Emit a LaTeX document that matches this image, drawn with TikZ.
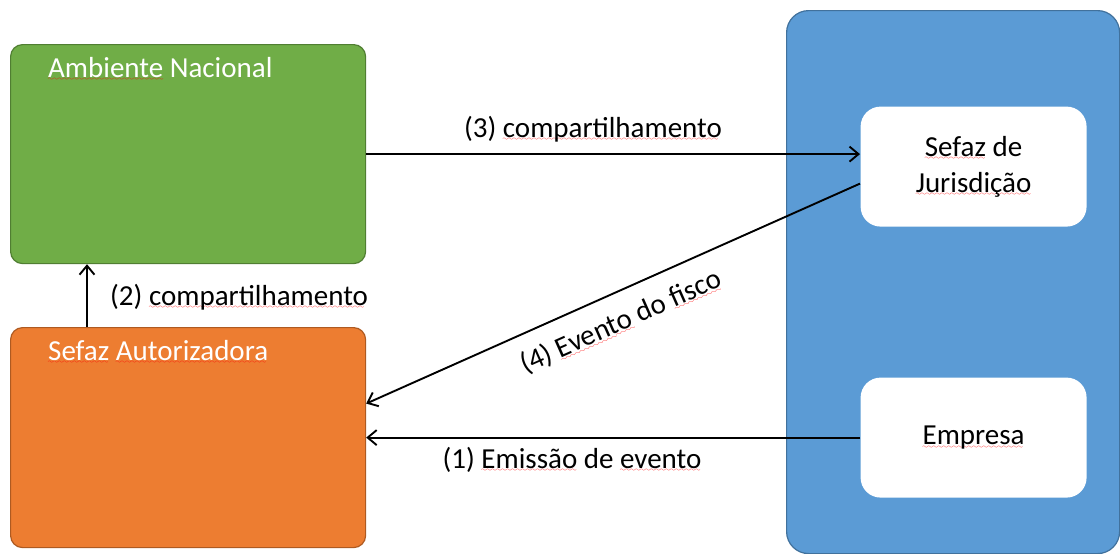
\documentclass[tikz,border=0pt]{standalone}
\usepackage{fontspec}
\setmainfont{Carlito}
\usetikzlibrary{arrows.meta,calc}
\definecolor{grnfill}{HTML}{70AD47}
\definecolor{grnline}{HTML}{507E32}
\definecolor{orgfill}{HTML}{ED7D31}
\definecolor{orgline}{HTML}{AE5A21}
\definecolor{blufill}{HTML}{5B9BD5}
\definecolor{bluline}{HTML}{41719C}
\font\sqfont=lasy6
\newcommand\redsq[1]{\setbox0\hbox{#1}\rlap{\textcolor{red}{\lower3.5pt\hbox to\wd0{\leaders\hbox{\sqfont\char58}\hfil}}}\box0\relax}
\tikzset{
  boxbase/.style={rounded corners=12pt, line width=1.2pt, inner sep=0pt},
  lbl/.style={font=\fontsize{29}{36}\selectfont, inner sep=0pt},
  conn/.style={line width=1.9pt, -{Straight Barb[length=9pt,width=15pt,line width=1.9pt]}}
}
\begin{document}
\begin{tikzpicture}[x=1pt,y=-1pt]
\useasboundingbox (0,0) rectangle (1120,554);
% boxes
\node[boxbase, draw=grnline, fill=grnfill, minimum width=355pt, minimum height=219pt, anchor=north west] (amb) at (10,44) {};
\node[boxbase, draw=orgline, fill=orgfill, minimum width=355pt, minimum height=220pt, anchor=north west] (aut) at (10,327) {};
\node[boxbase, rounded corners=22pt, draw=bluline, fill=blufill, minimum width=333pt, minimum height=543pt, anchor=north west] (blue) at (786,10) {};
\node[boxbase, rounded corners=20pt, fill=white, minimum width=226pt, minimum height=120pt, anchor=north west] (jur) at (860,106) {};
\node[boxbase, rounded corners=20pt, fill=white, minimum width=226pt, minimum height=120pt, anchor=north west] (emp) at (860,377) {};
% box texts
\node[lbl, text=white, anchor=base west] (ambt) at (48,77) {\redsq{Ambiente} Nacional};
\node[lbl, text=white, anchor=base west] (autt) at (48,360) {\redsq{Sefaz} \redsq{Autorizadora}};
\node[lbl, align=center] (jurt) at (jur.center) {\redsq{Sefaz} de\\\redsq{Jurisdição}};
\node[lbl] (empt) at (emp.center) {\redsq{Empresa}};
% connectors
\coordinate (c3) at (amb.east -| jur.west);
\draw[conn] (amb.east) -- (c3);
\coordinate (s4) at ($(jur.west)+(0,17)$);
\coordinate (e4) at ($(aut.east)+(0,-34)$);
\draw[conn] (s4) -- (e4);
\draw[conn] (emp.west) -- (aut.east);
\coordinate (s2) at ($(aut.north west)+(77,0)$);
\coordinate (e2) at (s2 |- amb.south);
\draw[conn] (s2) -- (e2);
% connector labels
\node[lbl, anchor=base west] (l2) at (110,305) {(2) \redsq{compartilhamento}};
\node[lbl, anchor=base] (l3) at (593,137) {(3) \redsq{compartilhamento}};
\node[lbl, anchor=base] (l1) at (572,468) {(1) \redsq{Emissão} de \redsq{evento}};
\node[lbl, rotate=24] (l4) at (621,322) {(4) \redsq{Evento} do \redsq{fisco}};
\end{tikzpicture}
\end{document}
